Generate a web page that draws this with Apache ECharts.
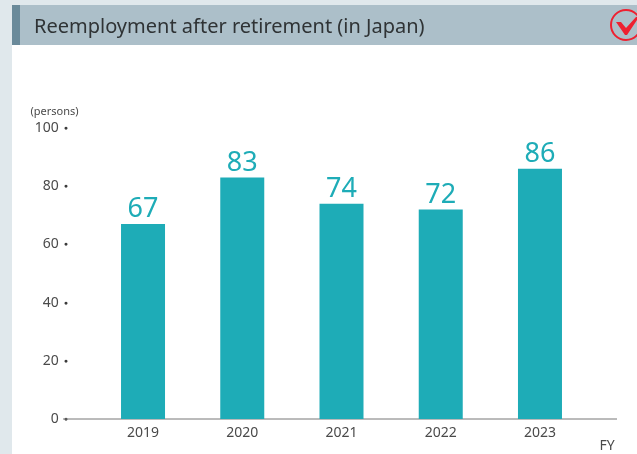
<!DOCTYPE html>
<html><head><meta charset="utf-8">
<style>html,body{margin:0;padding:0;background:#e0e8ec}#c{width:637px;height:454px}</style>
<script src="https://cdn.jsdelivr.net/npm/echarts@6/dist/echarts.min.js"></script>
</head><body><div id="c"></div>
<script>
const chartTitle = 'Reemployment after retirement (in Japan)';
const categories = ['2019','2020','2021','2022','2023'];
const persons = [67,83,74,72,86];
const yTicks = [0,20,40,60,80,100];
const font = '"Noto Sans", sans-serif';
const chart = echarts.init(document.getElementById('c'), null, {renderer:'canvas'});
chart.setOption({
  animation:false,
  backgroundColor:'#e0e8ec',
  textStyle:{fontFamily:font},
  title:{text:chartTitle,left:29,top:12,textStyle:{fontFamily:font,fontSize:20,fontWeight:'normal',color:'#2f3335'}},
  grid:{left:93.4,right:47.4,top:128,height:291},
  xAxis:{type:'category',data:categories,
    name:'FY',nameLocation:'end',nameGap:10,
    nameTextStyle:{fontFamily:font,fontSize:14,color:'#4a4a4a',verticalAlign:'top',padding:[20,0,0,0]},
    axisLine:{show:false},axisTick:{show:false},
    axisLabel:{fontFamily:font,fontSize:14,color:'#4a4a4a',margin:7}},
  yAxis:{type:'value',min:0,max:100,interval:20,offset:30.4,
    name:'(persons)',nameLocation:'end',nameGap:11,
    nameTextStyle:{fontFamily:font,fontSize:11,color:'#4a4a4a',align:'center',padding:[0,17,0,0]},
    axisLine:{show:false},axisTick:{show:false},splitLine:{show:false},
    axisLabel:{margin:-5,fontFamily:font,
      formatter:v=>`{n|${v}}{d|●}`,
      rich:{n:{fontFamily:font,fontSize:14,color:'#4a4a4a',padding:[0,5,0,0]},d:{fontSize:7,color:'#3a3a3a'}}}},
  series:[{type:'bar',data:persons,barWidth:44,itemStyle:{color:'#1eacb7'},
    label:{show:true,position:'top',distance:1,fontFamily:font,fontSize:27,color:'#1eacb7'}}],
  graphic:[
    {type:'rect',z:-1,shape:{x:12,y:5,width:625,height:449},style:{fill:'#ffffff'}},
    {type:'rect',z:-1,shape:{x:12,y:5,width:625,height:40},style:{fill:'#acbfc9'}},
    {type:'rect',z:-1,shape:{x:12,y:5,width:8,height:40},style:{fill:'#6a8a9a'}},
    {type:'line',z:1,shape:{x1:63,y1:419,x2:617,y2:419},style:{stroke:'#777777',lineWidth:1}},
    {type:'circle',z:5,shape:{cx:626,cy:25,r:15},style:{fill:'none',stroke:'#ee2030',lineWidth:2}},
    {type:'polygon',z:5,shape:{points:[[616,22],[621,22],[626,28],[636,17],[637,17],[637,20],[627,35],[625,35]]},style:{fill:'#ee2030'}}
  ]
});
</script></body></html>
